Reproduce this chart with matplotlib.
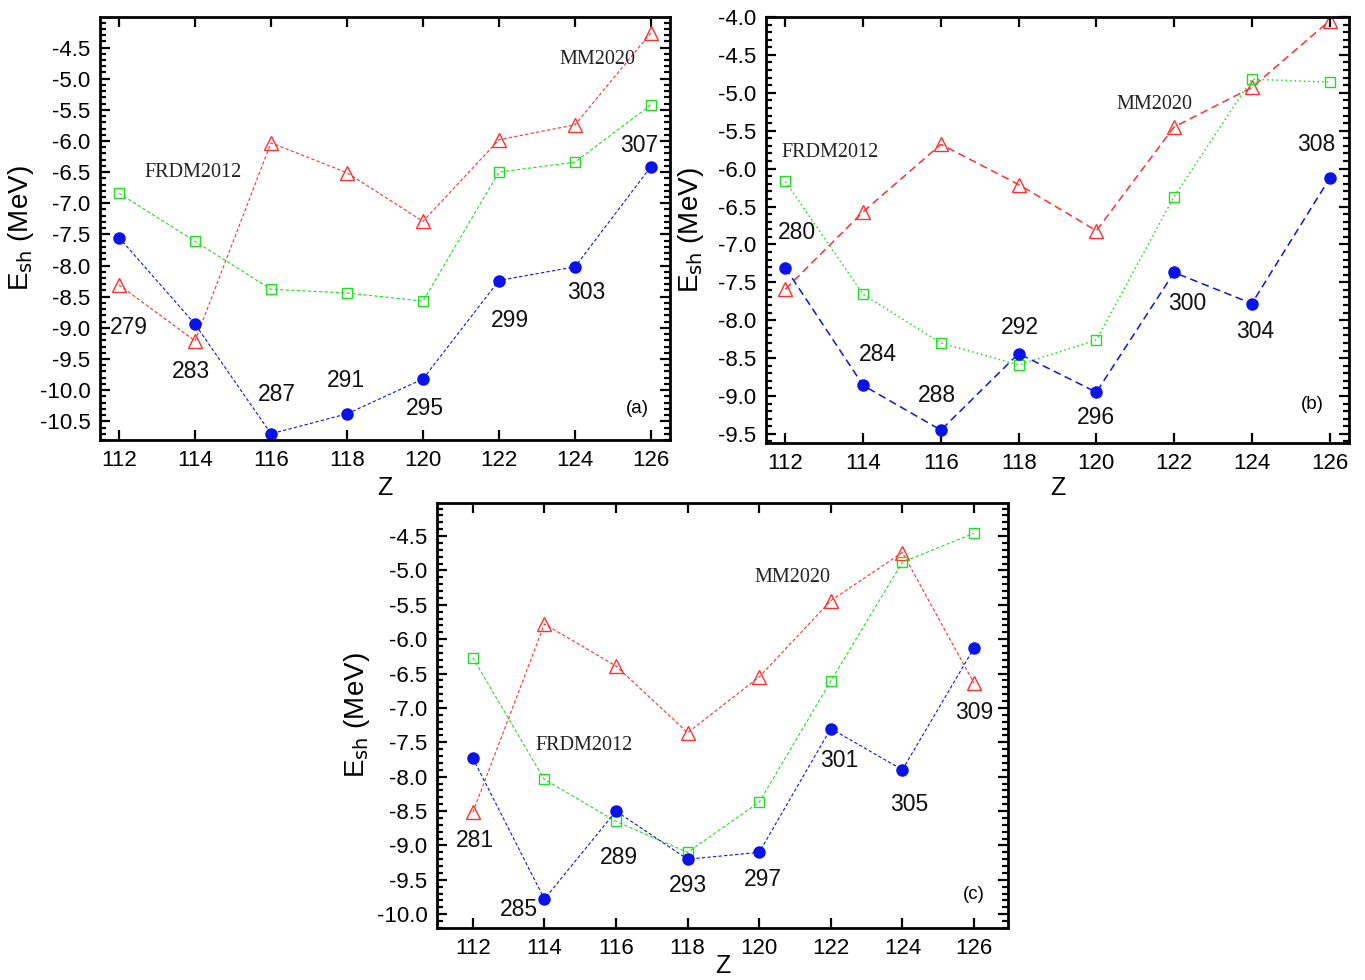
import matplotlib
matplotlib.use("Agg")
import matplotlib.pyplot as plt
from matplotlib.ticker import MultipleLocator, FormatStrFormatter

plt.rcParams['font.family'] = ['Liberation Sans', 'DejaVu Sans']

Z = [112, 114, 116, 118, 120, 122, 124, 126]

# Panel (a)
a_mm = [-8.31, -9.21, -6.03, -6.51, -7.29, -5.98, -5.74, -4.26]
a_frdm = [-6.84, -7.61, -8.38, -8.44, -8.57, -6.50, -6.34, -5.42]
a_this = [-7.55, -8.94, -10.70, -10.38, -9.82, -8.24, -8.02, -6.41]
a_labels = ['279', '283', '287', '291', '295', '299', '303', '307']
a_lab_x = [112.26, 113.9, 116.16, 117.96, 120.04, 122.3, 124.3, 125.68]
a_lab_y = [-8.99, -9.70, -10.07, -9.84, -10.30, -8.88, -8.44, -6.07]

# Panel (b)
b_mm = [-7.59, -6.57, -5.68, -6.21, -6.82, -5.45, -4.93, -4.05]
b_frdm = [-6.17, -7.66, -8.30, -8.59, -8.26, -6.37, -4.82, -4.86]
b_this = [-7.31, -8.86, -9.45, -8.44, -8.95, -7.37, -7.78, -6.13]
b_labels = ['280', '284', '288', '292', '296', '300', '304', '308']
b_lab_x = [112.3, 114.37, 115.9, 118.04, 120.0, 122.33, 124.08, 125.66]
b_lab_y = [-6.84, -8.45, -8.99, -8.10, -9.29, -7.78, -8.15, -5.68]

# Panel (c)
c_mm = [-8.52, -5.78, -6.39, -7.36, -6.55, -5.44, -4.74, -6.64]
c_frdm = [-6.27, -8.04, -8.65, -9.10, -8.37, -6.61, -4.88, -4.46]
c_this = [-7.73, -9.78, -8.50, -9.20, -9.10, -7.30, -7.90, -6.13]
c_labels = ['281', '285', '289', '293', '297', '301', '305', '309']
c_lab_x = [112.06, 113.3, 116.07, 118.0, 120.1, 122.24, 124.18, 126.0]
c_lab_y = [-8.93, -9.93, -9.18, -9.58, -9.50, -7.77, -8.40, -7.06]

RED = '#ff3030'
GREEN = '#22dd22'
BLUE = '#0a14e6'

fig = plt.figure(figsize=(13.65, 9.8), dpi=100)

def px_axes(l, t, r, b):
    return fig.add_axes([l / 1365, 1 - b / 980, (r - l) / 1365, (b - t) / 980])

def panel(ax, mm, frdm, this, labels, lx, ly, xlim, ylim, tag, tagpos,
          frdm_pos, mm_pos, ylab_x, zlab_y, styles):
    ls_mm, ls_frdm, ls_this, lw = styles
    ax.plot(Z, mm, linestyle=ls_mm, color=RED, lw=lw, marker='^', ms=10,
            mfc='none', mec=RED, mew=1.0)
    ax.plot(Z, frdm, linestyle=ls_frdm, color=GREEN, lw=lw, marker='s', ms=7.5,
            mfc='none', mec=GREEN, mew=1.0)
    ax.plot(Z, this, linestyle=ls_this, color=BLUE, lw=lw, marker='o', ms=8,
            mfc=BLUE, mec=BLUE)
    for t, x, y in zip(labels, lx, ly):
        ax.text(x, y, t, fontsize=16.5, ha='center', va='center', color='#111111')
    ax.text(frdm_pos[0], frdm_pos[1], 'FRDM2012', family='Liberation Serif',
            fontsize=14.5, ha='center', va='center', color='#222222')
    ax.text(mm_pos[0], mm_pos[1], 'MM2020', family='Liberation Serif',
            fontsize=14.5, ha='center', va='center', color='#222222')
    ax.text(tagpos[0], tagpos[1], tag, fontsize=13.5, ha='center', va='center')
    ax.set_xlim(*xlim)
    ax.set_ylim(*ylim)
    ax.set_xticks(Z)
    ax.yaxis.set_major_locator(MultipleLocator(0.5))
    ax.yaxis.set_minor_locator(MultipleLocator(0.1))
    ax.yaxis.set_major_formatter(FormatStrFormatter('%.1f'))
    ax.tick_params(which='both', direction='in', top=True, right=True,
                   labelsize=16, width=1.6)
    ax.tick_params(which='major', length=7, pad=7)
    ax.tick_params(which='minor', length=4)
    for s in ax.spines.values():
        s.set_linewidth(2)
    ax.set_ylabel('E$_{\\mathrm{sh}}$ (MeV)', fontsize=20)
    ax.yaxis.set_label_coords(ylab_x, 0.5)
    ax.set_xlabel('Z', fontsize=18)
    ax.xaxis.set_label_coords(0.5, zlab_y)

thin = ((0, (3, 2)), (0, (3, 2)), (0, (3, 2)), 0.8)
thick = ((0, (5, 3)), (0, (1, 2)), (0, (5, 3)), 1.1)

ax1 = px_axes(100, 17, 670, 440)
panel(ax1, a_mm, a_frdm, a_this, a_labels, a_lab_x, a_lab_y,
      (111.5, 126.5), (-10.8, -4.01), '(a)', (125.65, -10.3),
      (113.96, -6.5), (124.6, -4.70), -0.112, -0.085, thin)

ax2 = px_axes(766, 17, 1349, 443)
panel(ax2, b_mm, b_frdm, b_this, b_labels, b_lab_x, b_lab_y,
      (111.5, 126.5), (-9.62, -4.0), '(b)', (125.55, -9.11),
      (113.15, -5.79), (121.5, -5.15), -0.103, -0.077, thick)

ax3 = px_axes(437, 503, 1008, 928)
panel(ax3, c_mm, c_frdm, c_this, c_labels, c_lab_x, c_lab_y,
      (111.0, 126.95), (-10.2, -4.02), '(c)', (126.0, -9.72),
      (115.12, -7.55), (120.93, -5.11), -0.114, -0.062, thin)

fig.savefig('out.png', dpi=100)
